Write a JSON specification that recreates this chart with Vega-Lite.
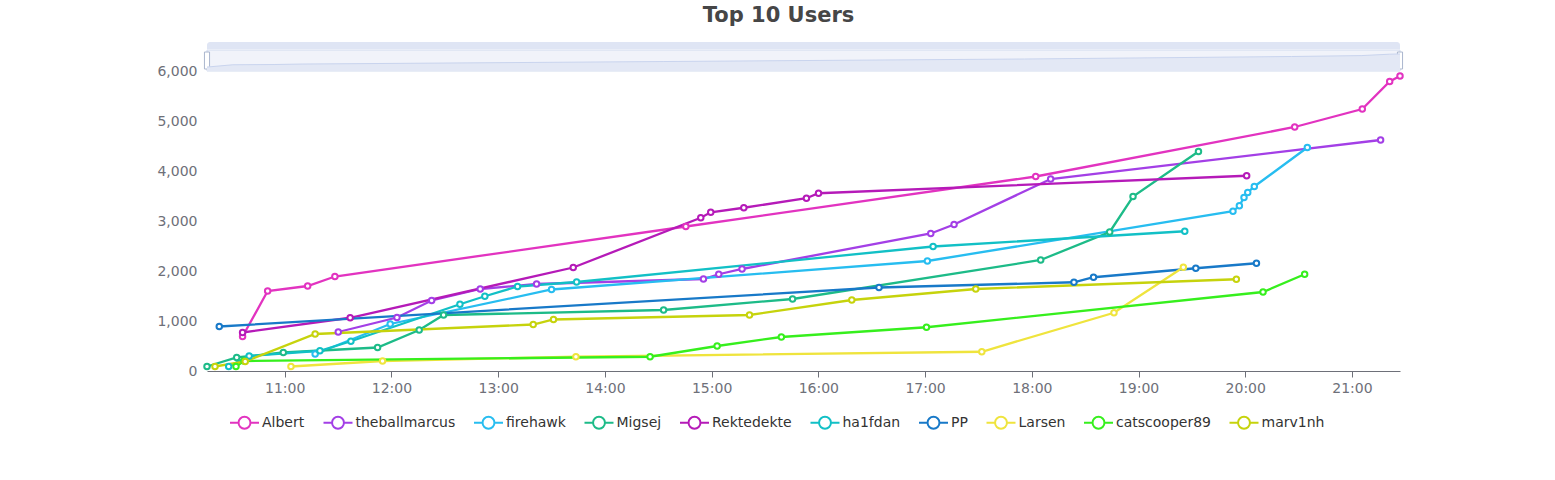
{
  "$schema": "https://vega.github.io/schema/vega-lite/v6.json",
  "background": "#ffffff",
  "padding": {"left": 156, "top": 5, "right": 5, "bottom": 5},
  "title": {
    "text": "Top 10 Users",
    "fontSize": 21,
    "fontWeight": "bold",
    "color": "#464646",
    "font": "DejaVu Sans",
    "anchor": "middle",
    "offset": 16,
    "dx": -25
  },
  "datasets": {
    "scores": [
      {"user": "Albert", "t": "2024-01-01T10:36:18", "v": 690},
      {"user": "Albert", "t": "2024-01-01T10:50:24", "v": 1600},
      {"user": "Albert", "t": "2024-01-01T11:12:54", "v": 1700},
      {"user": "Albert", "t": "2024-01-01T11:28:12", "v": 1890},
      {"user": "Albert", "t": "2024-01-01T14:45:30", "v": 2890},
      {"user": "Albert", "t": "2024-01-01T18:02:12", "v": 3890},
      {"user": "Albert", "t": "2024-01-01T20:27:48", "v": 4880},
      {"user": "Albert", "t": "2024-01-01T21:05:48", "v": 5240},
      {"user": "Albert", "t": "2024-01-01T21:21:12", "v": 5790},
      {"user": "Albert", "t": "2024-01-01T21:27:00", "v": 5900},
      {"user": "theballmarcus", "t": "2024-01-01T11:30:06", "v": 780},
      {"user": "theballmarcus", "t": "2024-01-01T12:03:06", "v": 1070},
      {"user": "theballmarcus", "t": "2024-01-01T12:22:36", "v": 1410},
      {"user": "theballmarcus", "t": "2024-01-01T12:49:54", "v": 1640},
      {"user": "theballmarcus", "t": "2024-01-01T13:21:36", "v": 1740},
      {"user": "theballmarcus", "t": "2024-01-01T14:55:24", "v": 1840},
      {"user": "theballmarcus", "t": "2024-01-01T15:04:00", "v": 1935},
      {"user": "theballmarcus", "t": "2024-01-01T15:17:06", "v": 2040},
      {"user": "theballmarcus", "t": "2024-01-01T17:03:12", "v": 2750},
      {"user": "theballmarcus", "t": "2024-01-01T17:16:18", "v": 2930},
      {"user": "theballmarcus", "t": "2024-01-01T18:10:36", "v": 3840},
      {"user": "theballmarcus", "t": "2024-01-01T21:16:06", "v": 4620},
      {"user": "firehawk", "t": "2024-01-01T11:17:06", "v": 340},
      {"user": "firehawk", "t": "2024-01-01T11:59:18", "v": 940},
      {"user": "firehawk", "t": "2024-01-01T13:30:00", "v": 1630},
      {"user": "firehawk", "t": "2024-01-01T17:01:18", "v": 2200},
      {"user": "firehawk", "t": "2024-01-01T19:53:06", "v": 3195},
      {"user": "firehawk", "t": "2024-01-01T19:56:42", "v": 3305},
      {"user": "firehawk", "t": "2024-01-01T19:59:18", "v": 3470},
      {"user": "firehawk", "t": "2024-01-01T20:01:24", "v": 3570},
      {"user": "firehawk", "t": "2024-01-01T20:05:06", "v": 3690},
      {"user": "firehawk", "t": "2024-01-01T20:34:54", "v": 4470},
      {"user": "Migsej", "t": "2024-01-01T10:16:18", "v": 90},
      {"user": "Migsej", "t": "2024-01-01T10:33:00", "v": 270},
      {"user": "Migsej", "t": "2024-01-01T10:59:12", "v": 370},
      {"user": "Migsej", "t": "2024-01-01T11:52:12", "v": 470},
      {"user": "Migsej", "t": "2024-01-01T12:15:36", "v": 820},
      {"user": "Migsej", "t": "2024-01-01T12:29:18", "v": 1120},
      {"user": "Migsej", "t": "2024-01-01T14:33:00", "v": 1220},
      {"user": "Migsej", "t": "2024-01-01T15:45:30", "v": 1440},
      {"user": "Migsej", "t": "2024-01-01T18:05:00", "v": 2220},
      {"user": "Migsej", "t": "2024-01-01T18:43:48", "v": 2780},
      {"user": "Migsej", "t": "2024-01-01T18:56:54", "v": 3490},
      {"user": "Migsej", "t": "2024-01-01T19:33:42", "v": 4390},
      {"user": "Rektedekte", "t": "2024-01-01T10:36:18", "v": 770},
      {"user": "Rektedekte", "t": "2024-01-01T11:36:48", "v": 1065},
      {"user": "Rektedekte", "t": "2024-01-01T13:42:12", "v": 2070},
      {"user": "Rektedekte", "t": "2024-01-01T14:53:54", "v": 3065},
      {"user": "Rektedekte", "t": "2024-01-01T14:59:30", "v": 3175},
      {"user": "Rektedekte", "t": "2024-01-01T15:18:06", "v": 3265},
      {"user": "Rektedekte", "t": "2024-01-01T15:53:18", "v": 3455},
      {"user": "Rektedekte", "t": "2024-01-01T16:00:06", "v": 3555},
      {"user": "Rektedekte", "t": "2024-01-01T20:00:48", "v": 3905},
      {"user": "ha1fdan", "t": "2024-01-01T10:28:30", "v": 90},
      {"user": "ha1fdan", "t": "2024-01-01T10:40:00", "v": 300},
      {"user": "ha1fdan", "t": "2024-01-01T11:19:48", "v": 405},
      {"user": "ha1fdan", "t": "2024-01-01T11:37:12", "v": 595},
      {"user": "ha1fdan", "t": "2024-01-01T12:38:30", "v": 1335},
      {"user": "ha1fdan", "t": "2024-01-01T12:52:30", "v": 1495},
      {"user": "ha1fdan", "t": "2024-01-01T13:10:54", "v": 1690},
      {"user": "ha1fdan", "t": "2024-01-01T13:44:06", "v": 1780},
      {"user": "ha1fdan", "t": "2024-01-01T17:04:30", "v": 2490},
      {"user": "ha1fdan", "t": "2024-01-01T19:26:00", "v": 2795},
      {"user": "PP", "t": "2024-01-01T10:23:12", "v": 890},
      {"user": "PP", "t": "2024-01-01T16:34:06", "v": 1670},
      {"user": "PP", "t": "2024-01-01T18:23:42", "v": 1775},
      {"user": "PP", "t": "2024-01-01T18:34:42", "v": 1875},
      {"user": "PP", "t": "2024-01-01T19:32:12", "v": 2055},
      {"user": "PP", "t": "2024-01-01T20:06:18", "v": 2155},
      {"user": "Larsen", "t": "2024-01-01T11:03:30", "v": 90},
      {"user": "Larsen", "t": "2024-01-01T11:55:00", "v": 200},
      {"user": "Larsen", "t": "2024-01-01T13:43:42", "v": 285},
      {"user": "Larsen", "t": "2024-01-01T17:31:54", "v": 385},
      {"user": "Larsen", "t": "2024-01-01T18:46:12", "v": 1165},
      {"user": "Larsen", "t": "2024-01-01T19:25:12", "v": 2075},
      {"user": "catscooper89", "t": "2024-01-01T10:32:36", "v": 90},
      {"user": "catscooper89", "t": "2024-01-01T10:37:06", "v": 200},
      {"user": "catscooper89", "t": "2024-01-01T14:25:24", "v": 285},
      {"user": "catscooper89", "t": "2024-01-01T15:03:06", "v": 500},
      {"user": "catscooper89", "t": "2024-01-01T15:39:12", "v": 680},
      {"user": "catscooper89", "t": "2024-01-01T17:00:48", "v": 875},
      {"user": "catscooper89", "t": "2024-01-01T20:10:00", "v": 1580},
      {"user": "catscooper89", "t": "2024-01-01T20:33:24", "v": 1935},
      {"user": "marv1nh", "t": "2024-01-01T10:20:48", "v": 90},
      {"user": "marv1nh", "t": "2024-01-01T10:37:48", "v": 190},
      {"user": "marv1nh", "t": "2024-01-01T11:17:06", "v": 740},
      {"user": "marv1nh", "t": "2024-01-01T13:19:42", "v": 930},
      {"user": "marv1nh", "t": "2024-01-01T13:31:06", "v": 1030},
      {"user": "marv1nh", "t": "2024-01-01T15:21:18", "v": 1120},
      {"user": "marv1nh", "t": "2024-01-01T16:18:48", "v": 1420},
      {"user": "marv1nh", "t": "2024-01-01T17:28:30", "v": 1640},
      {"user": "marv1nh", "t": "2024-01-01T19:55:00", "v": 1835}
    ]
  },
  "data": {"name": "scores"},
  "width": 1193,
  "height": 300,
  "resolve": {"scale": {"x": "independent", "y": "independent"}},
  "layer": [
    {
      "layer": [
        {
          "mark": {"type": "rect", "fill": "#f1f3fa", "stroke": "#d2dbee", "strokeWidth": 1},
          "encoding": {
            "x": {"aggregate": "min", "field": "t", "type": "temporal"},
            "x2": {"aggregate": "max", "field": "t"},
            "y": {"datum": 6000, "type": "quantitative"},
            "y2": {"datum": 6420}
          }
        },
        {
          "mark": {"type": "rect", "fill": "#dfe5f4", "cornerRadiusTopLeft": 3, "cornerRadiusTopRight": 3},
          "encoding": {
            "x": {"aggregate": "min", "field": "t", "type": "temporal"},
            "x2": {"aggregate": "max", "field": "t"},
            "y": {"datum": 6440, "type": "quantitative"},
            "y2": {"datum": 6580}
          }
        },
        {
          "mark": {"type": "point", "shape": "M-0.3,-1H0.3V1H-0.3Z", "size": 289, "filled": true, "fill": "#ffffff", "stroke": "#aab6ce", "strokeWidth": 1, "opacity": 1},
          "encoding": {
            "x": {"aggregate": "min", "field": "t", "type": "temporal"},
            "y": {"datum": 6210, "type": "quantitative"}
          }
        },
        {
          "mark": {"type": "point", "shape": "M-0.3,-1H0.3V1H-0.3Z", "size": 289, "filled": true, "fill": "#ffffff", "stroke": "#aab6ce", "strokeWidth": 1, "opacity": 1},
          "encoding": {
            "x": {"aggregate": "max", "field": "t", "type": "temporal"},
            "y": {"datum": 6210, "type": "quantitative"}
          }
        },
        {
          "mark": {"type": "line", "strokeWidth": 2.3},
          "encoding": {
            "x": {
              "field": "t",
              "type": "temporal",
              "title": null,
              "scale": {"nice": false},
              "axis": {
                "format": "%H:%M",
                "tickCount": 11,
                "grid": false,
                "domainColor": "#6E7079",
                "tickColor": "#6E7079",
                "tickSize": 6,
                "labelPadding": 4,
                "labelFontSize": 14,
                "labelColor": "#6E7079",
                "labelFont": "DejaVu Sans"
              }
            },
            "y": {
              "field": "v",
              "type": "quantitative",
              "title": null,
              "scale": {"domain": [0, 6000], "nice": false},
              "axis": {
                "values": [0, 1000, 2000, 3000, 4000, 5000, 6000],
                "format": ",.0f",
                "domain": false,
                "ticks": false,
                "labelPadding": 10,
                "gridColor": "#E0E6F1",
                "labelFontSize": 14,
                "labelColor": "#6E7079",
                "labelFont": "DejaVu Sans"
              }
            },
            "stroke": {
              "field": "user",
              "type": "nominal",
              "scale": {
                "domain": ["Albert", "theballmarcus", "firehawk", "Migsej", "Rektedekte", "ha1fdan", "PP", "Larsen", "catscooper89", "marv1nh"],
                "range": ["#e233c0", "#a33fe6", "#27bdf0", "#1dbb88", "#b51ab8", "#12c0c6", "#1879c8", "#efe43d", "#36ef1d", "#c6d30c"]
              },
              "legend": {
                "orient": "none",
                "direction": "horizontal",
                "title": null,
                "legendX": 22,
                "legendY": 336,
                "symbolType": "M-1,0H-0.41M0.41,0H1M-0.41,0A0.41,0.41,0,1,0,0.41,0A0.41,0.41,0,1,0,-0.41,0Z",
                "symbolSize": 841,
                "symbolStrokeWidth": 2,
                "symbolFillColor": "#ffffff",
                "symbolOpacity": 1,
                "labelFontSize": 14,
                "labelColor": "#333333",
                "labelFont": "DejaVu Sans",
                "labelOffset": 2,
                "columnPadding": 14.5
              }
            }
          }
        },
        {
          "mark": {"type": "point", "filled": true, "fill": "#ffffff", "size": 30, "strokeWidth": 2, "opacity": 1},
          "encoding": {
            "x": {"field": "t", "type": "temporal"},
            "y": {"field": "v", "type": "quantitative"},
            "stroke": {"field": "user", "type": "nominal"}
          }
        }
      ]
    },
    {
      "transform": [{"filter": "datum.user === 'Albert'"}],
      "mark": {"type": "area", "color": "#e3e8f5", "opacity": 1, "line": {"color": "#c9d4ee", "strokeWidth": 1}},
      "encoding": {
        "x": {"field": "t", "type": "temporal", "axis": null, "scale": {"nice": false}},
        "y": {"field": "v", "type": "quantitative", "axis": null, "scale": {"domain": [-119957, -873], "nice": false, "zero": false}},
        "y2": {"datum": -873}
      }
    }
  ],
  "config": {
    "font": "DejaVu Sans",
    "view": {"stroke": null}
  }
}
